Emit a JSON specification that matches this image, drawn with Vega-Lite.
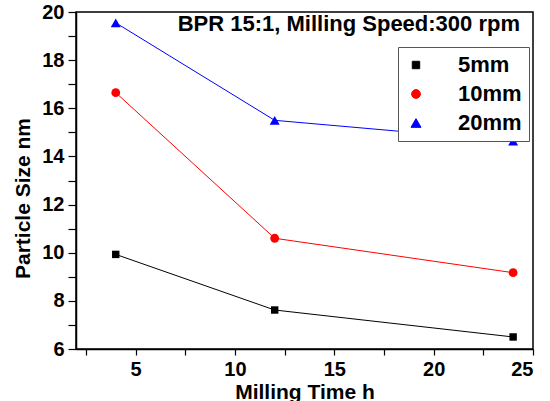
{
  "$schema": "https://vega.github.io/schema/vega-lite/v6.json",
  "width": 457,
  "height": 337,
  "autosize": {"type": "none"},
  "padding": {"left": 76, "top": 12, "right": 17, "bottom": 52},
  "background": "white",
  "config": {
    "font": "Liberation Sans",
    "view": {"stroke": "black", "strokeWidth": 1.5},
    "axis": {"grid": false, "domainColor": "black", "domainWidth": 1.5, "tickColor": "black", "tickWidth": 1.2, "labelFont": "Liberation Sans", "labelFontWeight": "bold", "labelFontSize": 20, "labelColor": "black", "titleFont": "Liberation Sans", "titleFontWeight": "bold", "titleFontSize": 21, "titleColor": "black"}
  },
  "title": {
    "text": "BPR 15:1, Milling Speed:300 rpm",
    "anchor": "end",
    "frame": "group",
    "orient": "top",
    "offset": -30,
    "dx": -13,
    "dy": 4,
    "font": "Liberation Sans",
    "fontSize": 22,
    "fontWeight": "bold",
    "color": "black"
  },
  "data": {
    "values": [
      {"time": 4, "size": 9.93, "series": "5mm"},
      {"time": 12, "size": 7.62, "series": "5mm"},
      {"time": 24, "size": 6.5, "series": "5mm"},
      {"time": 4, "size": 16.65, "series": "10mm"},
      {"time": 12, "size": 10.6, "series": "10mm"},
      {"time": 24, "size": 9.17, "series": "10mm"},
      {"time": 4, "size": 19.55, "series": "20mm"},
      {"time": 12, "size": 15.5, "series": "20mm"},
      {"time": 24, "size": 14.63, "series": "20mm"}
    ]
  },
  "encoding": {
    "x": {
      "field": "time", "type": "quantitative",
      "scale": {"domain": [2, 25], "nice": false, "zero": false},
      "axis": {
        "title": "Milling Time h",
        "values": [2.5, 5, 7.5, 10, 12.5, 15, 17.5, 20, 22.5, 25],
        "labelExpr": "datum.value % 5 === 0 ? datum.label : ''",
        "tickSize": 6,
        "labelPadding": 4,
        "titlePadding": 2,
        "encode": {"ticks": {"update": {"y2": {"signal": "datum.value % 5 === 0 ? 6 : 4"}}}}
      }
    },
    "y": {
      "field": "size", "type": "quantitative",
      "scale": {"domain": [6, 20], "nice": false, "zero": false},
      "axis": {
        "title": "Particle Size nm",
        "titleY": 186,
        "values": [6, 7, 8, 9, 10, 11, 12, 13, 14, 15, 16, 17, 18, 19, 20],
        "labelExpr": "datum.value % 2 === 0 ? datum.label : ''",
        "tickSize": 8,
        "labelPadding": 4,
        "titlePadding": 8,
        "encode": {"ticks": {"update": {"x2": {"signal": "datum.value % 2 === 0 ? -8 : -4"}}}}
      }
    },
    "color": {
      "field": "series", "type": "nominal",
      "scale": {"domain": ["5mm", "10mm", "20mm"], "range": ["#000000", "#ff0000", "#0000ff"]},
      "legend": {
        "title": null,
        "orient": "none",
        "legendX": 322,
        "legendY": 35,
        "padding": 7,
        "strokeColor": "#555555",
        "fillColor": "white",
        "symbolSize": 400,
        "symbolStrokeWidth": 1,
        "symbolType": {"expr": "datum.value === '5mm' ? 'M-1,0H3.3M0.75,-0.4H1.55V0.4H0.75Z' : datum.value === '10mm' ? 'M-1,0H3.3M0.65,0A0.5,0.5 0 1,0 1.65,0A0.5,0.5 0 1,0 0.65,0Z' : 'M-1,0H3.3M0.55,0.5L1.15,-0.5L1.75,0.5Z'"},
        "symbolStrokeColor": {"expr": "scale('color', datum.value)"},
        "symbolFillColor": {"expr": "scale('color', datum.value)"},
        "labelOffset": 31,
        "rowPadding": 7,
        "labelFont": "Liberation Sans",
        "labelFontWeight": "bold",
        "labelFontSize": 22,
        "labelColor": "black"
      }
    }
  },
  "layer": [
    {
      "mark": {"type": "point", "filled": true, "opacity": 1},
      "encoding": {
        "shape": {
          "field": "series", "type": "nominal",
          "scale": {"domain": ["5mm", "10mm", "20mm"], "range": ["square", "circle", "triangle-up"]},
          "legend": null
        },
        "size": {
          "field": "series", "type": "nominal",
          "scale": {"domain": ["5mm", "10mm", "20mm"], "range": [55, 100, 110]},
          "legend": null
        }
      }
    },
    {
      "mark": {"type": "line", "strokeWidth": 1}
    }
  ]
}
